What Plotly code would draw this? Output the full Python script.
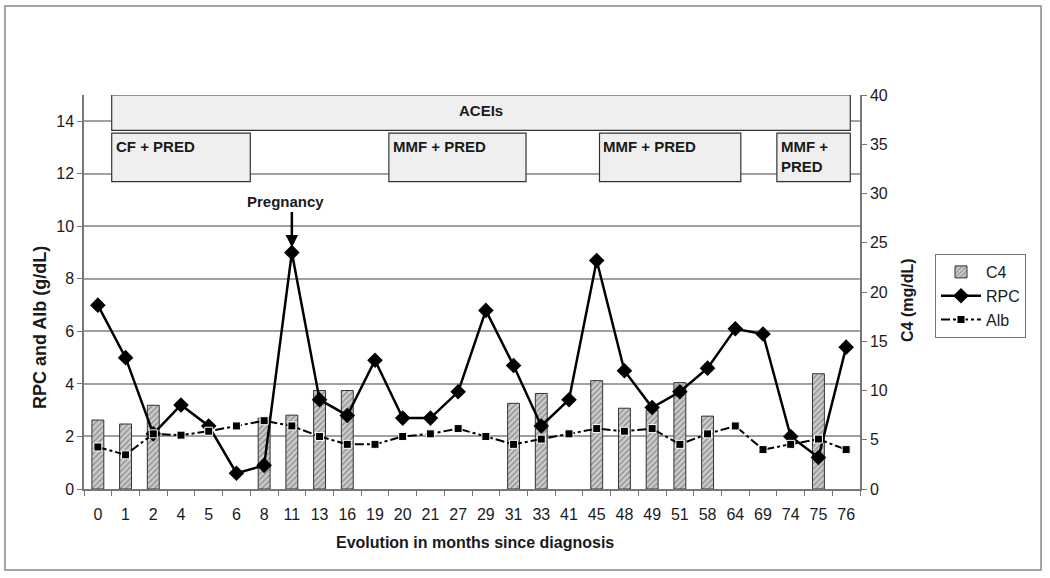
import plotly.graph_objects as go

months = ["0", "1", "2", "4", "5", "6", "8", "11", "13", "16", "19", "20", "21", "27",
          "29", "31", "33", "41", "45", "48", "49", "51", "58", "64", "69", "74", "75", "76"]
rpc = [7.0, 5.0, 2.1, 3.2, 2.4, 0.6, 0.9, 9.0, 3.4, 2.8, 4.9, 2.7, 2.7, 3.7,
       6.8, 4.7, 2.4, 3.4, 8.7, 4.5, 3.1, 3.7, 4.6, 6.1, 5.9, 2.0, 1.2, 5.4]
alb = [1.6, 1.3, 2.1, 2.05, 2.2, 2.4, 2.6, 2.4, 2.0, 1.7, 1.7, 2.0, 2.1, 2.3,
       2.0, 1.7, 1.9, 2.1, 2.3, 2.2, 2.3, 1.7, 2.1, 2.4, 1.5, 1.7, 1.9, 1.5]
c4 = [7.0, 6.6, 8.5, None, None, None, 7.2, 7.5, 10.0, 10.0, None, None, None, None,
      None, 8.7, 9.7, None, 11.0, 8.2, 8.0, 10.8, 7.4, None, None, None, 11.7, None]

# treatments: (label, start, end) in category-index units, row 0 = top row
treat_names = ["ACEIs", "CF + PRED", "MMF + PRED", "MMF + PRED", "MMF +<br>PRED"]
treat_start = [0.5, 0.5, 10.5, 18.1, 24.5]
treat_end = [27.15, 5.5, 15.45, 23.2, 27.15]
treat_row = [0, 1, 1, 1, 1]

pregnancy_month = "11"

FONT = "Liberation Sans, Arial, sans-serif"
TXT = "#1a1a1a"

fig = go.Figure()
fig.add_trace(go.Bar(
    x=months, y=c4, name="C4", yaxis="y", width=0.43,
    marker=dict(color="#cfcfcf", line=dict(color="#333333", width=1),
                pattern=dict(shape="/", fgcolor="#505050", bgcolor="#cccccc",
                             size=4, solidity=0.35)),
))
fig.add_trace(go.Scatter(
    x=months, y=rpc, name="RPC", yaxis="y2", mode="lines+markers",
    line=dict(color="black", width=2.5),
    marker=dict(symbol="diamond", size=12, color="black"),
))
fig.add_trace(go.Scatter(
    x=months, y=alb, name="Alb", yaxis="y2", mode="lines+markers",
    line=dict(color="black", width=2, dash="dashdot"),
    marker=dict(symbol="square", size=8, color="black",
                line=dict(color="white", width=1)),
))

shapes = []
annotations = []
row_y = {0: (13.65, 15.0), 1: (11.7, 13.55)}
for name, s, e, r in zip(treat_names, treat_start, treat_end, treat_row):
    y0, y1 = row_y[r]
    shapes.append(dict(type="rect", xref="x", yref="y2", x0=s, x1=e, y0=y0, y1=y1,
                       fillcolor="#efefef", line=dict(color="#333333", width=1.2),
                       layer="above"))
    if r == 0:
        annotations.append(dict(x=(s + e) / 2, y=14.4, xref="x", yref="y2", text="<b>%s</b>" % name,
                                showarrow=False, xanchor="center", yanchor="middle",
                                font=dict(family=FONT, size=15, color=TXT)))
    else:
        annotations.append(dict(x=s, y=y1, xref="x", yref="y2", text="<b>%s</b>" % name,
                                showarrow=False, xanchor="left", yanchor="top", align="left",
                                xshift=2, yshift=-3,
                                font=dict(family=FONT, size=15, color=TXT)))

# outer frame
shapes.append(dict(type="rect", xref="paper", yref="paper", x0=-0.1018, x1=1.2333,
                   y0=-0.2056, y1=1.2259, line=dict(color="#888888", width=1.5),
                   fillcolor="rgba(0,0,0,0)", layer="below"))

# pregnancy marker
p_idx = months.index(pregnancy_month)
p_val = rpc[p_idx]
annotations.append(dict(x=p_idx, y=p_val, xref="x", yref="y2", text="", showarrow=True,
                        ax=0, ay=-42, arrowhead=2, arrowsize=1, arrowwidth=2.5,
                        arrowcolor="black", standoff=5))
annotations.append(dict(x=p_idx, y=p_val, xref="x", yref="y2", text="<b>Pregnancy</b>",
                        showarrow=False, xshift=-6, yshift=51, xanchor="center", yanchor="middle",
                        font=dict(family=FONT, size=15, color=TXT)))

# axis titles
annotations.append(dict(xref="paper", yref="paper", x=(40 - 84) / 776, y=(489 - 328) / 394,
                        text="<b>RPC and Alb (g/dL)</b>", textangle=-90, showarrow=False,
                        xanchor="center", yanchor="middle",
                        font=dict(family=FONT, size=18, color=TXT)))
annotations.append(dict(xref="paper", yref="paper", x=(907 - 84) / 776, y=(489 - 300) / 394,
                        text="<b>C4 (mg/dL)</b>", textangle=-90, showarrow=False,
                        xanchor="center", yanchor="middle",
                        font=dict(family=FONT, size=16, color=TXT)))
annotations.append(dict(xref="paper", yref="paper", x=(475 - 84) / 776, y=(489 - 542) / 394,
                        text="<b>Evolution in months since diagnosis</b>", showarrow=False,
                        xanchor="center", yanchor="middle",
                        font=dict(family=FONT, size=16, color=TXT)))

fig.update_layout(
    width=1050, height=578,
    margin=dict(l=84, r=190, t=95, b=89),
    plot_bgcolor="white", paper_bgcolor="white",
    font=dict(family=FONT, size=15, color=TXT),
    bargap=0.5,
    xaxis=dict(type="category", categoryorder="array", categoryarray=months,
               range=[-0.5, len(months) - 0.5],
               showline=True, linecolor="#777777", linewidth=1.5,
               ticks="outside", tickson="boundaries", ticklen=5, tickcolor="#777777",
               ticklabelstandoff=10, showgrid=False,
               tickfont=dict(family=FONT, size=16, color=TXT)),
    yaxis=dict(side="right", range=[0, 40], dtick=5, showgrid=False, zeroline=False,
               showline=True, linecolor="#777777", linewidth=1.5,
               ticks="outside", ticklen=5, tickcolor="#777777",
               tickfont=dict(family=FONT, size=16, color=TXT)),
    yaxis2=dict(side="left", overlaying="y", range=[0, 15], tickvals=[0, 2, 4, 6, 8, 10, 12, 14],
                showgrid=True, gridcolor="#a0a0a0", gridwidth=1.5, zeroline=False,
                showline=True, linecolor="#777777", linewidth=1.5,
                ticks="outside", ticklen=5, tickcolor="#777777",
                tickfont=dict(family=FONT, size=16, color=TXT)),
    legend=dict(x=(935 - 84) / 776, y=(489 - 254) / 394, xanchor="left", yanchor="top",
                bordercolor="#777777", borderwidth=1, bgcolor="white",
                font=dict(family=FONT, size=16, color=TXT), traceorder="normal",
                itemwidth=40, tracegroupgap=2),
    shapes=shapes,
    annotations=annotations,
    showlegend=True,
)

fig.write_html("out.html", config={"displayModeBar": False},
               post_script="document.body.style.margin='0';document.body.style.padding='0';")
